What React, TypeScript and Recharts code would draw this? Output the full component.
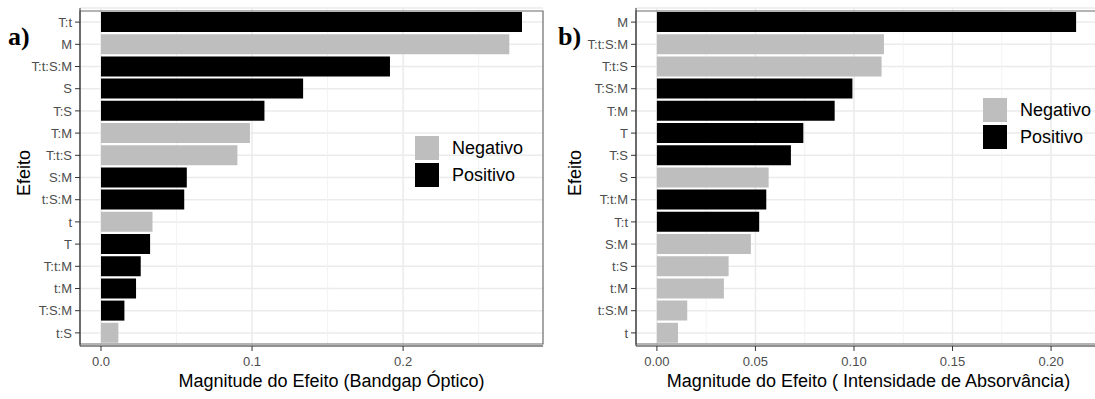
import React from 'react';
import { BarChart, Bar, XAxis, YAxis, CartesianGrid, Cell, Legend, ReferenceArea } from 'recharts';

// ---- Panel a) Bandgap Óptico ----
const effectsA = ['T:t', 'M', 'T:t:S:M', 'S', 'T:S', 'T:M', 'T:t:S', 'S:M', 't:S:M', 't', 'T', 'T:t:M', 't:M', 'T:S:M', 't:S'];
const magnitudesA = [0.2787, 0.2703, 0.1913, 0.1338, 0.1082, 0.0986, 0.0903, 0.0568, 0.0551, 0.0341, 0.0325, 0.0263, 0.0232, 0.0155, 0.0115];
const signsA = ['Positivo', 'Negativo', 'Positivo', 'Positivo', 'Positivo', 'Negativo', 'Negativo', 'Positivo', 'Positivo', 'Negativo', 'Positivo', 'Positivo', 'Positivo', 'Positivo', 'Negativo'];
const majorTicksA = [0, 0.1, 0.2];
const minorTicksA = [0.05, 0.15, 0.25];
const domainA: [number, number] = [-0.0139, 0.2926];

// ---- Panel b) Intensidade de Absorvância ----
const effectsB = ['M', 'T:t:S:M', 'T:t:S', 'T:S:M', 'T:M', 'T', 'T:S', 'S', 'T:t:M', 'T:t', 'S:M', 't:S', 't:M', 't:S:M', 't'];
const magnitudesB = [0.2127, 0.1152, 0.1140, 0.0992, 0.0902, 0.0743, 0.0680, 0.0567, 0.0555, 0.0519, 0.0477, 0.0364, 0.0340, 0.0154, 0.0107];
const signsB = ['Positivo', 'Negativo', 'Negativo', 'Positivo', 'Positivo', 'Positivo', 'Positivo', 'Negativo', 'Positivo', 'Positivo', 'Negativo', 'Negativo', 'Negativo', 'Negativo', 'Negativo'];
const majorTicksB = [0, 0.05, 0.1, 0.15, 0.2];
const minorTicksB = [0.025, 0.075, 0.125, 0.175];
const domainB: [number, number] = [-0.0106, 0.2233];

const legendLabels = ['Negativo', 'Positivo'];
const signColors: Record<string, string> = { Negativo: '#BEBEBE', Positivo: '#000000' };

const FONT = '"Liberation Sans", Arial, Helvetica, sans-serif';

type PanelProps = {
  tag: string;
  effects: string[];
  magnitudes: number[];
  signs: string[];
  majorTicks: number[];
  minorTicks: number[];
  domain: [number, number];
  decimals: number;
  xTitle: string;
  width: number;
  yAxisWidth: number;
  marginRight: number;
  titleDx: number;
  legendLeft: number;
  legendTop: number;
};

const LegendBox = () => (
  <div style={{ fontFamily: FONT }}>
    {legendLabels.map((l) => (
      <div key={l} style={{ display: 'flex', alignItems: 'center', height: 24, marginBottom: 3 }}>
        <div style={{ width: 24, height: 24, background: signColors[l] }} />
        <span style={{ marginLeft: 13, fontSize: 18, color: '#000', lineHeight: '24px' }}>{l}</span>
      </div>
    ))}
  </div>
);

const Panel = (p: PanelProps) => {
  const data = p.effects.map((e, i) => ({ effect: e, value: p.magnitudes[i], sign: p.signs[i] }));
  const yLabel = (props: any) => {
    const vb = props.viewBox || { x: 0, y: 8, width: p.yAxisWidth, height: 338 };
    const cy = vb.y + vb.height / 2 - 4;
    const ex = vb.x + 30 + (p.yAxisWidth - 80) / 6;
    return (
      <g>
        <text x={8} y={45} fontFamily='"Liberation Serif", "Times New Roman", serif' fontWeight="bold" fontSize={26} fill="#000">
          {p.tag}
        </text>
        <text x={ex} y={cy} transform={`rotate(-90, ${ex}, ${cy})`} textAnchor="middle" fontSize={18} fill="#000" fontFamily={FONT}>
          Efeito
        </text>
      </g>
    );
  };
  const xLabel = (props: any) => {
    const vb = props.viewBox || { x: p.yAxisWidth, y: 346, width: 400, height: 53 };
    return (
      <text x={vb.x + vb.width / 2 + p.titleDx} y={vb.y + 41} textAnchor="middle" fontSize={18} fill="#000" fontFamily={FONT}>
        {p.xTitle}
      </text>
    );
  };
  return (
    <BarChart
      width={p.width}
      height={399}
      data={data}
      layout="vertical"
      margin={{ top: 8, right: p.marginRight, bottom: 0, left: 0 }}
      style={{ fontFamily: FONT }}
    >
      <CartesianGrid stroke="#EBEBEB" strokeWidth={1.5} horizontal={true} vertical={true} verticalValues={p.majorTicks} />
      <CartesianGrid stroke="#F2F2F2" strokeWidth={0.9} horizontal={false} vertical={true} verticalValues={p.minorTicks} />
      <XAxis
        type="number"
        dataKey="value"
        domain={p.domain}
        ticks={p.majorTicks}
        allowDataOverflow
        tickFormatter={(v: number) => v.toFixed(p.decimals)}
        height={53}
        tickSize={5}
        tickMargin={6}
        tick={{ fill: '#4D4D4D', fontSize: 13 }}
        tickLine={{ stroke: '#333333' }}
        axisLine={{ stroke: '#333333' }}
        label={xLabel}
      />
      <YAxis
        type="category"
        dataKey="effect"
        width={p.yAxisWidth}
        interval={0}
        padding={{ top: 3, bottom: 2 }}
        tickSize={5}
        tickMargin={3}
        tick={{ fill: '#4D4D4D', fontSize: 13 }}
        tickLine={{ stroke: '#333333' }}
        axisLine={{ stroke: '#333333' }}
        label={yLabel}
      />
      <Bar dataKey="value" barSize={20} isAnimationActive={false}>
        {data.map((d, i) => (
          <Cell key={i} fill={signColors[d.sign]} />
        ))}
      </Bar>
      <ReferenceArea
        x1={p.domain[0]}
        x2={p.domain[1]}
        fill="none"
        fillOpacity={0}
        stroke="#6b6b6b"
        strokeWidth={1.2}
        ifOverflow="visible"
      />
      <Legend
        layout="vertical"
        align="center"
        verticalAlign="middle"
        wrapperStyle={{ left: p.legendLeft, top: p.legendTop, width: 'auto', height: 'auto' }}
        content={() => <LegendBox />}
      />
    </BarChart>
  );
};

export default function App() {
  return (
    <div
      style={{
        position: 'absolute',
        left: 0,
        top: 0,
        width: 1095,
        height: 399,
        overflow: 'hidden',
        background: '#fff',
        fontFamily: FONT,
      }}
    >
      <div style={{ position: 'absolute', left: 0, top: 0 }}>
        <Panel
          tag="a)"
          effects={effectsA}
          magnitudes={magnitudesA}
          signs={signsA}
          majorTicks={majorTicksA}
          minorTicks={minorTicksA}
          domain={domainA}
          decimals={1}
          xTitle="Magnitude do Efeito (Bandgap Óptico)"
          width={550}
          yAxisWidth={80}
          marginRight={7}
          titleDx={20}
          legendLeft={415}
          legendTop={136}
        />
      </div>
      <div style={{ position: 'absolute', left: 550, top: 0 }}>
        <Panel
          tag="b)"
          effects={effectsB}
          magnitudes={magnitudesB}
          signs={signsB}
          majorTicks={majorTicksB}
          minorTicks={minorTicksB}
          domain={domainB}
          decimals={2}
          xTitle="Magnitude do Efeito ( Intensidade de Absorvância)"
          width={550}
          yAxisWidth={86}
          marginRight={3}
          titleDx={2}
          legendLeft={433}
          legendTop={98}
        />
      </div>
    </div>
  );
}
